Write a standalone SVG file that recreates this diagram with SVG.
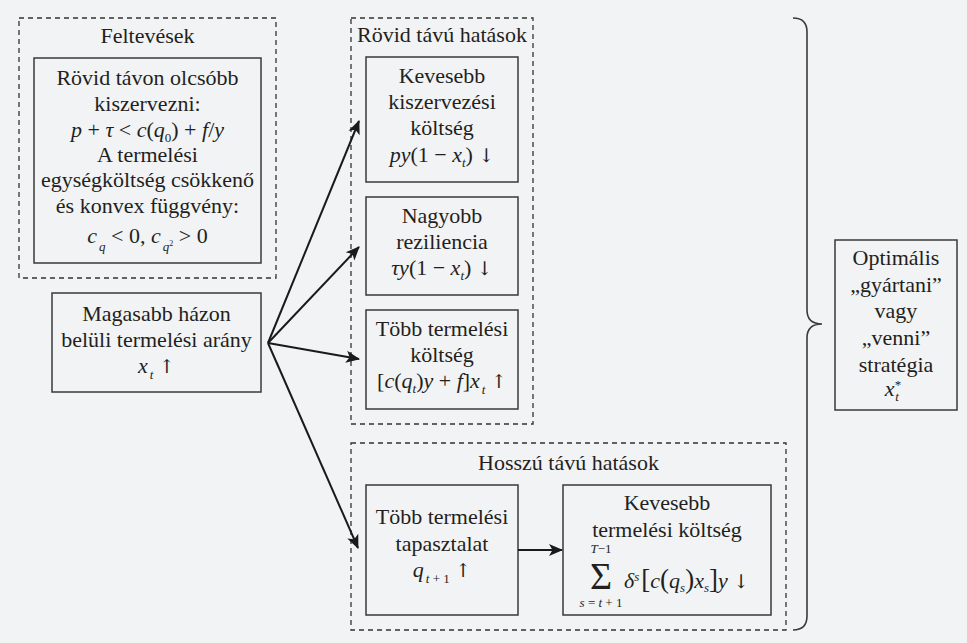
<svg xmlns="http://www.w3.org/2000/svg" width="967" height="643" viewBox="0 0 967 643">
<style>
text{font-family:"Liberation Serif","Tinos","DejaVu Serif",serif;font-size:22px;fill:#231f20;text-anchor:middle}
.i{font-style:italic}
.sub{font-size:13px;font-style:italic}
.ar{font-family:"DejaVu Serif",serif;font-size:19px}
.box{fill:none;stroke:#3a3a3a;stroke-width:1.5}
.grp{fill:none;stroke:#333;stroke-width:1.3;stroke-dasharray:5 4}
.arr{fill:none;stroke:#1a1a1a;stroke-width:2;marker-end:url(#ah)}
.sm{font-size:13px}
.big{font-size:27px}
</style>
<defs>
<marker id="ah" viewBox="-14 -7 16 14" refX="0" refY="0" markerWidth="16" markerHeight="14" markerUnits="userSpaceOnUse" orient="auto">
<path d="M1,0 L-13,-6 L-9.5,0 L-13,6 Z" fill="#1a1a1a"/>
</marker>
</defs>
<rect width="967" height="643" fill="#f2f3f5"/>

<g id="feltevesek">
<rect class="grp" x="19" y="18" width="257" height="260"/>
<text x="147.5" y="43">Feltevések</text>
<rect class="box" x="34" y="58" width="227" height="205"/>
<text x="147.5" y="85">Rövid távon olcsóbb</text>
<text x="147.5" y="111">kiszervezni:</text>
<text x="147.5" y="137"><tspan class="i">p</tspan> + <tspan class="i">τ</tspan> &lt; <tspan class="i">c</tspan>(<tspan class="i">q</tspan><tspan class="sm" baseline-shift="-5">0</tspan>) + <tspan class="i">f</tspan>/<tspan class="i">y</tspan></text>
<text x="147.5" y="162">A termelési</text>
<text x="147.5" y="187">egységköltség csökkenő</text>
<text x="147.5" y="213">és konvex függvény:</text>
<text x="147.5" y="243"><tspan class="i">c</tspan><tspan class="sub" baseline-shift="-8" dx="2">q</tspan> &lt; 0, <tspan class="i">c</tspan><tspan class="sub" baseline-shift="-8" dx="2">q</tspan><tspan style="font-size:8px" baseline-shift="-3">2</tspan> &gt; 0</text>
</g>

<g id="magasabb">
<rect class="box" x="52" y="293" width="209" height="99"/>
<text x="156.5" y="321">Magasabb házon</text>
<text x="156.5" y="347">belüli termelési arány</text>
<text x="156.5" y="373"><tspan class="i">x</tspan><tspan class="sub" baseline-shift="-6" dx="2">t</tspan> <tspan class="ar">↑</tspan></text>
</g>

<g id="rovid">
<rect class="grp" x="351" y="18" width="182" height="406"/>
<text x="442" y="42">Rövid távú hatások</text>
</g>

<g id="kevesebb-kiszervezesi">
<rect class="box" x="366" y="57" width="152" height="125"/>
<text x="442" y="83">Kevesebb</text>
<text x="442" y="109">kiszervezési</text>
<text x="442" y="135">költség</text>
<text x="442" y="162"><tspan class="i">py</tspan>(1 − <tspan class="i">x</tspan><tspan class="sub" baseline-shift="-5">t</tspan>) <tspan class="ar">↓</tspan></text>
</g>

<g id="nagyobb">
<rect class="box" x="366" y="197" width="152" height="98"/>
<text x="442" y="223">Nagyobb</text>
<text x="442" y="249">reziliencia</text>
<text x="442" y="275"><tspan class="i">τy</tspan>(1 − <tspan class="i">x</tspan><tspan class="sub" baseline-shift="-5">t</tspan>) <tspan class="ar">↓</tspan></text>
</g>

<g id="tobb-koltseg">
<rect class="box" x="366" y="310" width="152" height="99"/>
<text x="442" y="336">Több termelési</text>
<text x="442" y="362">költség</text>
<text x="442" y="388">[<tspan class="i">c</tspan>(<tspan class="i">q</tspan><tspan class="sub" baseline-shift="-5">t</tspan>)<tspan class="i">y</tspan> + <tspan class="i">f</tspan>]<tspan class="i">x</tspan><tspan class="sub" baseline-shift="-6" dx="2">t</tspan> <tspan class="ar">↑</tspan></text>
</g>

<g id="hosszu">
<rect class="grp" x="351" y="443" width="435" height="187"/>
<text x="568.5" y="470">Hosszú távú hatások</text>
</g>

<g id="tapasztalat">
<rect class="box" x="366" y="485" width="152" height="130"/>
<text x="442" y="524">Több termelési</text>
<text x="442" y="551">tapasztalat</text>
<text x="442" y="577"><tspan class="i">q</tspan><tspan class="sm" baseline-shift="-6" dx="2"><tspan class="i">t</tspan> + 1</tspan> <tspan class="ar">↑</tspan></text>
</g>

<g id="kevesebb-termelesi">
<rect class="box" x="563" y="485" width="208" height="130"/>
<text x="667" y="510">Kevesebb</text>
<text x="667" y="537">termelési költség</text>
<text x="601" y="553" class="sm"><tspan class="i">T</tspan>−1</text>
<text x="601" y="589" style="font-size:38px">Σ</text>
<text x="601" y="607" class="sm"><tspan class="i">s</tspan> = <tspan class="i">t</tspan> + 1</text>
<text x="624" y="588" style="text-anchor:start"><tspan class="i">δ</tspan><tspan class="sub" baseline-shift="7">s</tspan><tspan class="big" dx="2">[</tspan><tspan class="i">c</tspan><tspan class="big">(</tspan><tspan class="i">q</tspan><tspan class="sub" baseline-shift="-4">s</tspan><tspan class="big">)</tspan><tspan class="i">x</tspan><tspan class="sub" baseline-shift="-4">s</tspan><tspan class="big">]</tspan><tspan class="i">y</tspan> <tspan class="ar">↓</tspan></text>
</g>

<g id="optimalis">
<rect class="box" x="835" y="240" width="122" height="170"/>
<text x="896" y="265">Optimális</text>
<text x="896" y="292">„gyártani”</text>
<text x="896" y="318">vagy</text>
<text x="896" y="345">„venni”</text>
<text x="896" y="372">stratégia</text>
<text x="893" y="396"><tspan class="i">x</tspan><tspan class="sm" baseline-shift="7">*</tspan><tspan class="sub" dx="-6" baseline-shift="-5">t</tspan></text>
</g>

<g id="connectors">
<path class="arr" d="M268,343 L359,121"/>
<path class="arr" d="M268,343 L359,247"/>
<path class="arr" d="M268,343 L359,359"/>
<path class="arr" d="M268,343 L358,548"/>
<path class="arr" d="M518,550 L562,550"/>
<path d="M793,18 Q807,18 807,32 L807,310 Q807,324 822,324 Q807,324 807,338 L807,616 Q807,630 793,630" fill="none" stroke="#3a3a3a" stroke-width="1.6"/>
</g>
</svg>
